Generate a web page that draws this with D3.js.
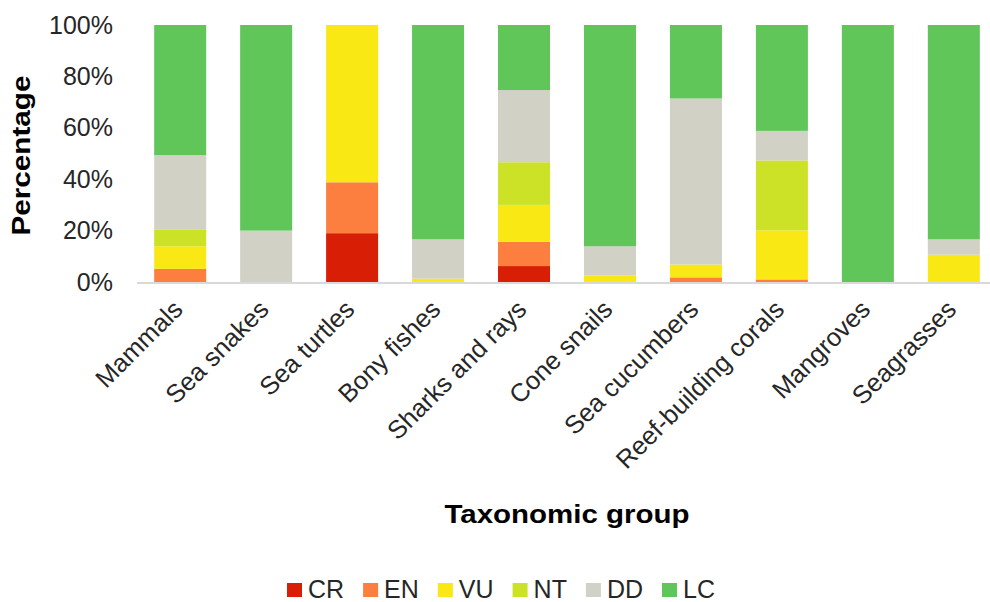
<!DOCTYPE html>
<html>
<head>
<meta charset="utf-8">
<script src="https://cdn.jsdelivr.net/npm/d3@7"></script>
<style>
  body { margin: 0; background: #fff; }
  text { font-family: "Liberation Sans", Arial, sans-serif; }
</style>
</head>
<body>
<script>
// taxonomic groups along the x axis
const groups = ['Mammals', 'Sea snakes', 'Sea turtles', 'Bony fishes', 'Sharks and rays',
  'Cone snails', 'Sea cucumbers', 'Reef-building corals', 'Mangroves', 'Seagrasses'];

// IUCN categories, bottom to top of each bar
const statuses = ['CR', 'EN', 'VU', 'NT', 'DD', 'LC'];
const statusColors = ['#d81e05', '#fc7f3f', '#f9e814', '#cce226', '#d1d1c6', '#60c659'];

// percentage of species per group
const cr = [0, 0, 19, 0, 6.2, 0, 0, 0, 0, 0];
const en = [5.1, 0, 19.8, 0, 9.5, 0, 1.8, 1.0, 0, 0];
const vu = [8.8, 0, 61.2, 1.3, 14.3, 2.6, 5.0, 19.1, 0, 10.6];
const nt = [6.6, 0, 0, 0, 16.6, 0, 0, 27.2, 0, 0];
const dd = [28.9, 20, 0, 15.3, 28.1, 11.3, 64.6, 11.5, 0, 6.0];
const lc = [50.6, 80, 0, 83.4, 25.3, 86.1, 28.6, 41.2, 100, 83.4];

const yTicks = [0, 20, 40, 60, 80, 100];

const width = 990;
const height = 602;

// rows for d3.stack
const series = { CR: cr, EN: en, VU: vu, NT: nt, DD: dd, LC: lc };
const rows = groups.map((g, i) => {
  const row = { group: g };
  statuses.forEach((s) => { row[s] = series[s][i]; });
  return row;
});

const svg = d3.select('body')
  .append('svg')
  .attr('width', width)
  .attr('height', height);

const x = d3.scaleBand()
  .domain(groups)
  .range([137, 997])
  .paddingInner(0.395)
  .paddingOuter(0.2);

const y = d3.scaleLinear()
  .domain([0, 100])
  .range([282, 25]);

const color = d3.scaleOrdinal().domain(statuses).range(statusColors);

const stacked = d3.stack().keys(statuses)(rows);

svg.append('g')
  .selectAll('g')
  .data(stacked)
  .join('g')
  .attr('fill', (d) => color(d.key))
  .selectAll('rect')
  .data((d) => d)
  .join('rect')
  .attr('x', (d) => x(d.data.group))
  .attr('width', x.bandwidth())
  .attr('y', (d) => y(d[1]))
  .attr('height', (d) => y(d[0]) - y(d[1]));

// baseline
svg.append('line')
  .attr('x1', 137)
  .attr('x2', width)
  .attr('y1', y(0) + 1)
  .attr('y2', y(0) + 1)
  .attr('stroke', '#d9d9d9')
  .attr('stroke-width', 2);

// y axis: labels only
const yAxis = d3.axisLeft(y)
  .tickValues(yTicks)
  .tickFormat((d) => d + '%')
  .tickSize(0)
  .tickPadding(0);

const yg = svg.append('g')
  .attr('transform', 'translate(113,0)')
  .call(yAxis);
yg.select('.domain').remove();
yg.selectAll('text')
  .attr('font-size', 25)
  .attr('font-family', '"Liberation Sans", Arial, sans-serif')
  .attr('fill', '#262626');

// x axis labels, rotated
const xAxis = d3.axisBottom(x).tickSize(0).tickPadding(0);
const xg = svg.append('g')
  .attr('transform', 'translate(0,' + (y(0) + 29) + ')')
  .call(xAxis);
xg.select('.domain').remove();
xg.selectAll('text')
  .attr('font-size', 25.5)
  .attr('font-family', '"Liberation Sans", Arial, sans-serif')
  .attr('fill', '#262626')
  .attr('text-anchor', 'end')
  .attr('dy', 0)
  .attr('y', 0)
  .attr('transform', 'translate(4,0) rotate(-45)');

// axis titles
svg.append('text')
  .attr('transform', 'translate(30,' + (y(50) + 2) + ') rotate(-90)')
  .attr('text-anchor', 'middle')
  .attr('font-size', 25)
  .attr('font-weight', 'bold')
  .attr('textLength', 160)
  .attr('lengthAdjust', 'spacingAndGlyphs')
  .text('Percentage');

svg.append('text')
  .attr('x', 567)
  .attr('y', 523)
  .attr('text-anchor', 'middle')
  .attr('font-size', 25)
  .attr('font-weight', 'bold')
  .attr('textLength', 245)
  .attr('lengthAdjust', 'spacingAndGlyphs')
  .text('Taxonomic group');

// legend
const legend = svg.append('g').attr('transform', 'translate(287,590)');
let lx = 0;
statuses.forEach((s) => {
  const item = legend.append('g').attr('transform', 'translate(' + lx + ',0)');
  item.append('rect')
    .attr('x', 0)
    .attr('y', -7)
    .attr('width', 15)
    .attr('height', 14)
    .attr('fill', color(s));
  const t = item.append('text')
    .attr('x', 21)
    .attr('y', 8)
    .attr('font-size', 25)
    .attr('fill', '#262626')
    .text(s);
  lx += 21 + t.node().getComputedTextLength() + 19;
});
</script>
</body>
</html>
